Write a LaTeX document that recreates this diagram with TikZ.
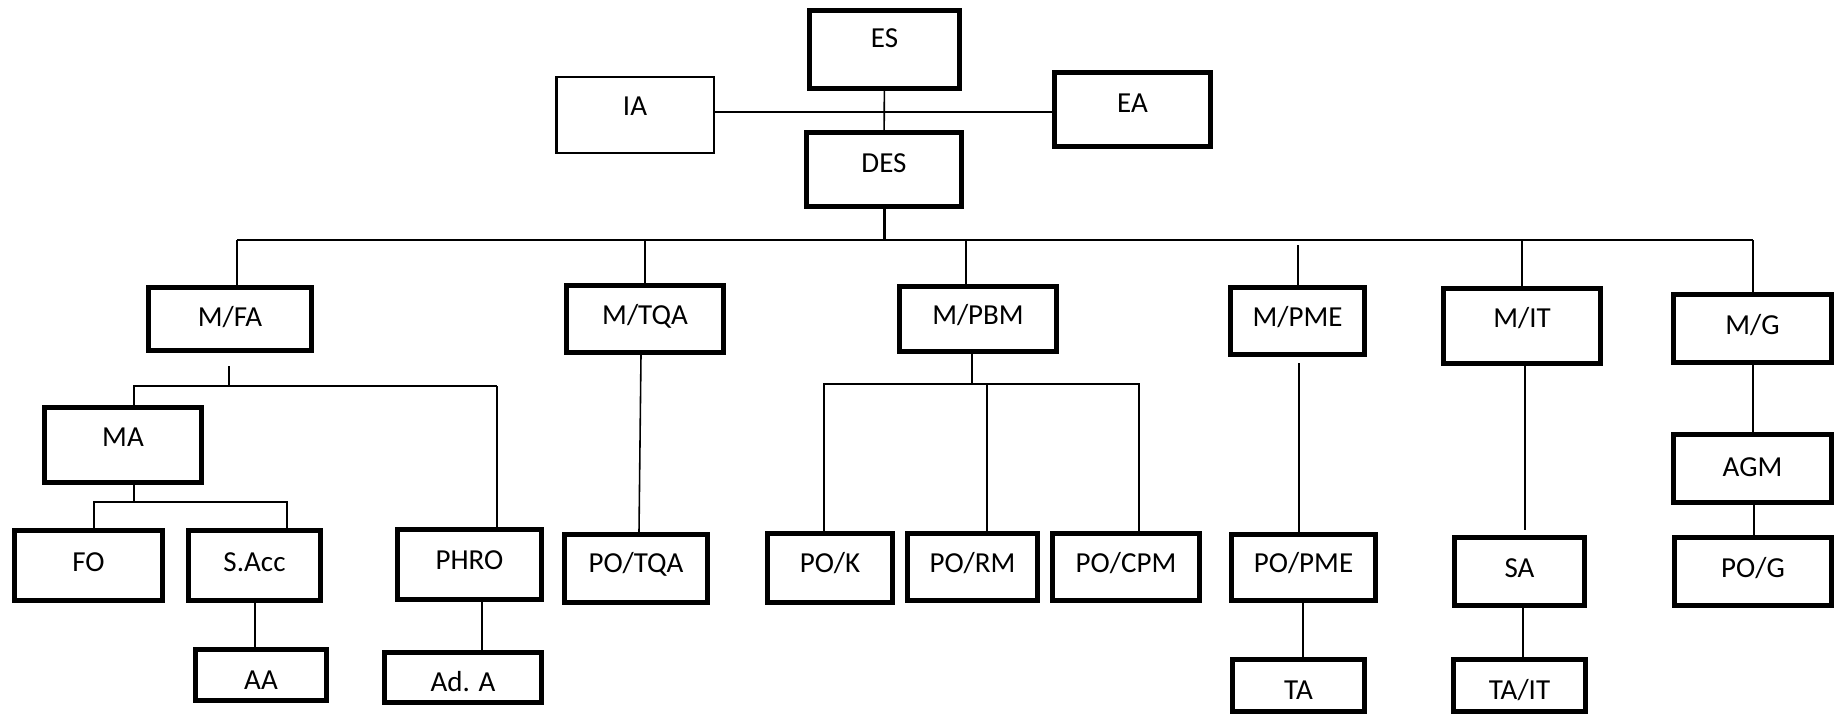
\documentclass[tikz,border=0pt]{standalone}
\usepackage{fontspec}
\setmainfont{Carlito}
\begin{document}
\begin{tikzpicture}[x=0.02cm, y=-0.02cm,
    box/.style={draw, line width=3pt, inner sep=0pt, text height=10.4pt, text depth=0pt,
                font=\fontsize{16.5}{19}\selectfont},
    thinbox/.style={box, line width=1.4pt},
    sz/.style 2 args={minimum width=#1cm, minimum height=#2cm},
    wire/.style={line width=0.9pt},
    heavy/.style={line width=1.7pt}]
    \useasboundingbox (0,0) rectangle (1840,714);

    % 顶层
    \node[box, sz={3.0}{1.56}, text depth=0.46cm] (es) at (884.5,49.5) {ES};
    \node[thinbox, sz={3.15}{1.51}, text depth=0.36cm] (ia) at (635,115) {IA};
    \node[box, sz={3.12}{1.48}, text depth=0.26cm] (ea) at (1132.5,109.5) {EA};
    \node[box, sz={3.1}{1.48}, text depth=0.26cm] (des) at (884,169.5) {DES};

    % 部门经理
    \node[box, sz={3.26}{1.26}, text depth=0.08cm] (mfa) at (230,319) {M/FA};
    \node[box, sz={3.14}{1.34}, text depth=0.16cm] (mtqa) at (645,319) {M/TQA};
    \node[box, sz={3.14}{1.30}, text depth=0.16cm] (mpbm) at (978,319) {M/PBM};
    \node[box, sz={2.68}{1.34}, text depth=0.16cm] (mpme) at (1297.5,321) {M/PME};
    \node[box, sz={3.14}{1.50}, text depth=0.32cm] (mit) at (1522,326) {M/IT};
    \node[box, sz={3.16}{1.36}, text depth=0.14cm] (mg) at (1752.5,328.5) {M/G};

    % 下级
    \node[box, sz={3.14}{1.50}, text depth=0.32cm] (ma) at (123,445) {MA};
    \node[box, sz={2.96}{1.40}, text depth=0.14cm] (fo) at (88.5,565.5) {FO};
    \node[box, sz={2.64}{1.40}, text depth=0.14cm] (sacc) at (254.5,565.5) {S.Acc};
    \node[box, sz={2.88}{1.40}, text depth=0.18cm] (phro) at (469.5,564.5) {PHRO};
    \node[box, sz={2.62}{1.02}, text height=0.566cm] (aa) at (261,675) {AA};
    \node[box, sz={3.14}{1.00}, text height=0.546cm] (ada) at (463,677.5) {Ad. A};
    \node[box, sz={2.86}{1.36}, text depth=0.22cm] (potqa) at (636,568.5) {PO/TQA};
    \node[box, sz={2.50}{1.38}, text depth=0.20cm] (pok) at (830,568) {PO/K};
    \node[box, sz={2.60}{1.34}, text depth=0.16cm] (porm) at (972.5,567) {PO/RM};
    \node[box, sz={2.94}{1.34}, text depth=0.16cm] (pocpm) at (1126,567) {PO/CPM};
    \node[box, sz={2.88}{1.32}, text depth=0.18cm] (popme) at (1303.5,567.5) {PO/PME};
    \node[box, sz={2.64}{1.04}, text height=0.546cm] (ta) at (1298.5,685.5) {TA};
    \node[box, sz={2.60}{1.36}, text depth=0.14cm] (sa) at (1519.5,571.5) {SA};
    \node[box, sz={2.64}{1.04}, text height=0.546cm] (tait) at (1519.5,685.5) {TA/IT};
    \node[box, sz={3.16}{1.36}, text depth=0.06cm] (agm) at (1752.5,468.5) {AGM};
    \node[box, sz={3.14}{1.36}, text depth=0.14cm] (pog) at (1753,571.5) {PO/G};

    % 顶层连线
    \coordinate (hub) at (884,112);
    \draw[wire] (es) -- (des);
    \draw[wire] (ia.east |- hub) -- (hub) -- (ea.west |- hub);

    % 总线
    \coordinate (busl) at (237,240);
    \coordinate (busr) at (1753,240);
    \draw[wire, line width=1.2pt] (busl) -- (busr);
    \draw[heavy] (des) -- (des |- busl);
    \draw[wire] (busl) -- (busl |- mfa.north);
    \draw[wire] (mtqa.north |- busl) -- (mtqa.north);
    \draw[wire] (966,0 |- busl) -- (966,0 |- mpbm.north);
    \draw[wire, shorten <=0.1cm] (1298,0 |- busl) -- (1298,0 |- mpme.north);
    \draw[wire] (mit.north |- busl) -- (mit.north);
    \draw[wire] (busr) -- (busr |- mg.north);

    % M/FA 分支
    \coordinate (fa) at (229,386);
    \coordinate (fal) at (134,386);
    \coordinate (far) at (497,386);
    \draw[wire] (fa |- 0,366) -- (fa);
    \draw[wire] (ma.north -| fal) -- (fal) -- (far);
    \draw[heavy] (far) -- (far |- phro.north);
    \coordinate (mal) at (94,502);
    \coordinate (mar) at (287,502);
    \draw[wire] (ma.south -| fal) -- (fal |- mal);
    \draw[wire] (fo.north -| mal) -- (mal) -- (mar) -- (mar |- sacc.north);
    \draw[wire] (sacc.south -| 255,0) -- (aa.north -| 255,0);
    \draw[wire] (phro.south -| 482,0) -- (ada.north -| 482,0);

    % M/TQA, M/PBM 分支
    \draw[wire] (mtqa.south -| 641,0) -- (potqa.north -| 639,0);
    \coordinate (pbl) at (824,384);
    \coordinate (pbr) at (1139,384);
    \draw[wire] (mpbm.south -| 972,0) -- (972,0 |- pbl);
    \draw[wire] (pok.north -| pbl) -- (pbl) -- (pbr) -- (pbr |- pocpm.north);
    \draw[wire] (987,0 |- pbl) -- (porm.north -| 987,0);

    % 右侧分支
    \draw[wire, shorten <=0.12cm] (mpme.south -| 1299,0) -- (popme.north -| 1299,0);
    \draw[wire] (popme.south -| 1303,0) -- (ta.north -| 1303,0);
    \draw[wire, shorten >=0.1cm] (mit.south -| 1525,0) -- (sa.north -| 1525,0);
    \draw[wire] (sa.south -| 1523,0) -- (tait.north -| 1523,0);
    \draw[wire] (mg.south -| 1753,0) -- (agm.north -| 1753,0);
    \draw[wire] (agm.south -| 1754,0) -- (pog.north -| 1754,0);
\end{tikzpicture}
\end{document}
